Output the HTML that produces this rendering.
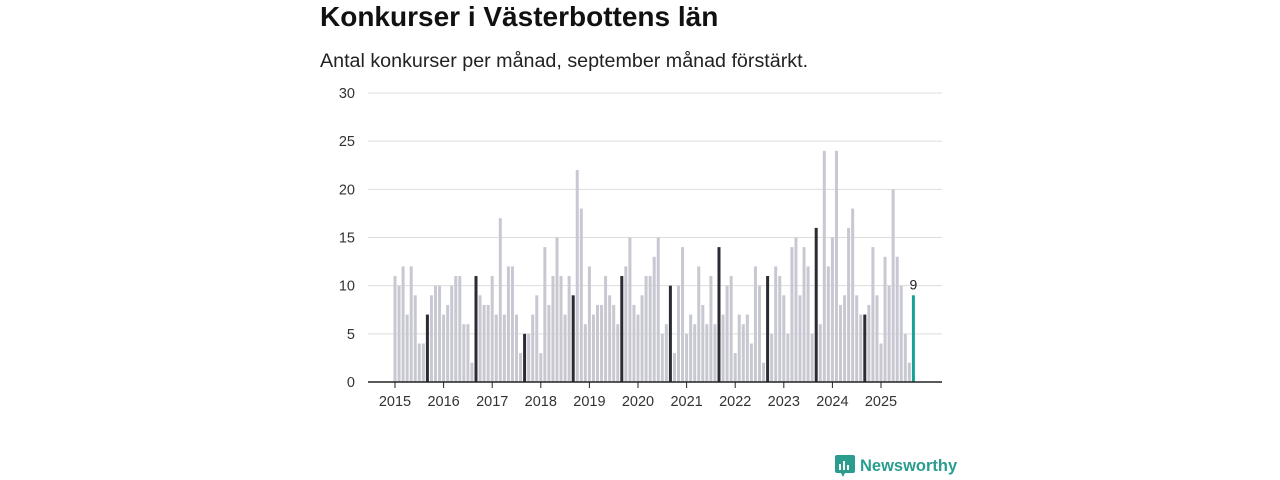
<!DOCTYPE html>
<html><head><meta charset="utf-8"><style>
body{margin:0;width:1280px;height:480px;background:#fff;font-family:"Liberation Sans",sans-serif;position:relative;overflow:hidden}
#title{position:absolute;left:320px;top:1px;font-size:28px;font-weight:bold;color:#111}
#sub{position:absolute;left:320px;top:50px;font-size:19.7px;color:#222}
#logo{position:absolute;left:835px;top:455px;font-size:16.5px;font-weight:bold;color:#2a9d8f;display:flex;align-items:center;gap:5px}
</style></head><body>
<div id="title">Konkurser i Västerbottens län</div>
<div id="sub">Antal konkurser per månad, september månad förstärkt.</div>
<svg id="chart" width="1280" height="480" style="position:absolute;left:0;top:0"></svg>
<div id="logo"><svg width="20" height="22"><rect x="0" y="0" width="20" height="18" rx="2" fill="#2a9d8f"/><polygon points="6,18 10,18 8,22" fill="#2a9d8f"/><rect x="4" y="9" width="2" height="6" fill="#fff"/><rect x="8" y="6" width="2" height="9" fill="#fff"/><rect x="12" y="10" width="2" height="5" fill="#fff"/></svg>Newsworthy</div>
<script>
const years=[2015,2016,2017,2018,2019,2020,2021,2022,2023,2024,2025];
const yTicks=[0,5,10,15,20,25,30];
const values=[
11,10,12,7,12,9,4,4,7,9,10,10,
7,8,10,11,11,6,6,2,11,9,8,8,
11,7,17,7,12,12,7,3,5,5,7,9,
3,14,8,11,15,11,7,11,9,22,18,6,
12,7,8,8,11,9,8,6,11,12,15,8,
7,9,11,11,13,15,5,6,10,3,10,14,
5,7,6,12,8,6,11,6,14,7,10,11,
3,7,6,7,4,12,10,2,11,5,12,11,
9,5,14,15,9,14,12,5,16,6,24,12,
15,24,8,9,16,18,9,7,7,8,14,9,
4,13,10,20,13,10,5,2,9];
const svg=document.getElementById('chart');
const NS='http://www.w3.org/2000/svg';
const x0=395,step=4.05,yBase=382,yTop=93,yMax=30;
const X=i=>x0+i*step;
const Y=v=>yBase-(v/yMax)*(yBase-yTop);
function mk(t,a){const e=document.createElementNS(NS,t);for(const k in a)e.setAttribute(k,a[k]);svg.appendChild(e);return e;}
yTicks.forEach(t=>{
  const g=mk('line',{x1:368,x2:942,y1:Y(t),y2:Y(t),stroke:'#ddd','stroke-width':1});
  
  
  const l=mk('text',{x:355,y:Y(t)+5,'text-anchor':'end','font-size':14.5,fill:'#333','font-family':'Liberation Sans, sans-serif'});
  l.textContent=t;
  
  
});
values.forEach((v,i)=>{
  const last=i===values.length-1, sep=i%12===8;
  const r=mk('rect',{x:X(i)-1.5,y:Y(v),width:3,height:yBase-Y(v),fill:last?'#1aa094':sep?'#2b2b36':'#c8c8d2'});
  
  
  if(last){const t=mk('text',{x:X(i),y:Y(v)-6,'text-anchor':'middle','font-size':14,fill:'#222','font-family':'Liberation Sans, sans-serif'});t.textContent=v;
  
  }
});
const ax=mk('line',{x1:368,x2:942,y1:yBase,y2:yBase,stroke:'#222','stroke-width':1.5});


years.forEach((yr,k)=>{
  const xx=X(k*12);
  const tk=mk('line',{x1:xx,x2:xx,y1:yBase,y2:yBase+6,stroke:'#222'});
  
  
  const t=mk('text',{x:xx,y:406,'text-anchor':'middle','font-size':14.5,fill:'#333','font-family':'Liberation Sans, sans-serif'});
  t.textContent=yr;
  
  
});
</script>
</body></html>
